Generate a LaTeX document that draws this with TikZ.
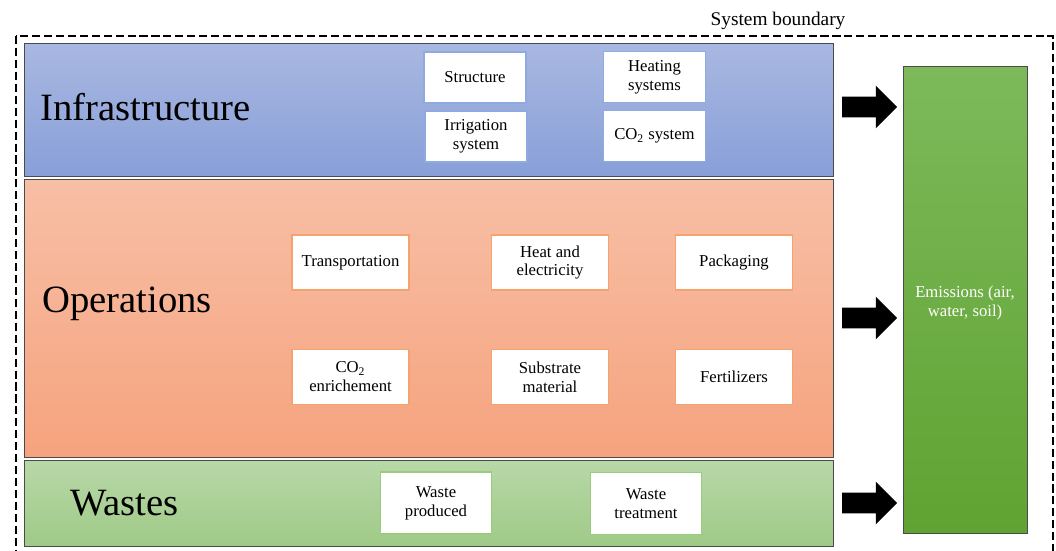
\documentclass[tikz,border=0pt]{standalone}
\usepackage{fontspec}
\setmainfont{Liberation Serif}
\usepackage{tikz}
\usetikzlibrary{positioning,calc,shapes.arrows}
\definecolor{cBlueTop}{HTML}{A9B8E1}
\definecolor{cBlueBot}{HTML}{889FD8}
\definecolor{cBlueD}{HTML}{8FAADC}
\definecolor{cOrgTop}{HTML}{F7BFA6}
\definecolor{cOrgBot}{HTML}{F6A37E}
\definecolor{cOrgD}{HTML}{F4A36C}
\definecolor{cGrnTop}{HTML}{B8D8A8}
\definecolor{cGrnBot}{HTML}{9FCA87}
\definecolor{cGrnD}{HTML}{9BCB7F}
\definecolor{cEmTop}{HTML}{7DB95A}
\definecolor{cEmBot}{HTML}{60A332}
\definecolor{cEdge}{HTML}{4A4A4A}
\tikzset{
  layer/.style   = {draw=cEdge, line width=0.5pt, minimum width=16.2cm, inner sep=0pt},
  ttl/.style     = {anchor=base west, font=\fontsize{22}{26}\selectfont, inner sep=0pt},
  item/.style    = {fill=white, line width=0.6pt, align=center, inner sep=1pt,
                    font=\fontsize{9.5}{10.8}\selectfont},
  infraitem/.style = {item, draw=cBlueD, minimum width=2.04cm, minimum height=1.02cm},
  opsitem/.style   = {item, draw=cOrgD,  minimum width=2.34cm, minimum height=1.1cm},
  wasteitem/.style = {item, draw=cGrnD,  minimum width=2.22cm, minimum height=1.24cm},
  blockarrow/.style = {single arrow, fill=black, draw=none, inner xsep=0pt,
                    inner ysep=0.2cm, single arrow head extend=0.22cm,
                    minimum height=1.1cm},
}

\begin{document}
\begin{tikzpicture}[x=0.02cm, y=-0.02cm]
  \useasboundingbox (0,0) rectangle (1056,551);
  \clip (0,0) rectangle (1056,551);
  % system boundary
  \draw[black, line width=1.5pt, dash pattern=on 4.6pt off 2.2pt] (16,36) rectangle (1053,600);
  \node[font=\fontsize{11}{13}\selectfont] (bnd) at (778,21) {System boundary};
  % layers
  \node[layer, minimum height=2.66cm, top color=cBlueTop, bottom color=cBlueBot] (infra) at (429,109.5) {};
  \node[layer, minimum height=5.56cm, top color=cOrgTop, bottom color=cOrgBot] (ops) at (429,318) {};
  \node[layer, minimum height=1.72cm, top color=cGrnTop, bottom color=cGrnBot] (waste) at (429,503) {};
  \node[ttl] (infraT) at (40,120) {Infrastructure};
  \node[ttl] (opsT) at (42,312) {Operations};
  \node[ttl] (wasteT) at (70,515) {Wastes};
  % infrastructure items
  \node[infraitem] (struct) at (475,77.5) {Structure};
  \node[infraitem] (heatsys) at (654.5,77) {Heating\\systems};
  \node[infraitem] (irrig) at (476,136.5) {Irrigation\\system};
  \node[infraitem] (cosys) at (654.5,136) {CO\textsubscript{2} system};
  % operations items
  \node[opsitem] (transp) at (350.5,262.5) {Transportation};
  \node[opsitem] (heatel) at (550,262.5) {Heat and\\electricity};
  \node[opsitem] (pack) at (734,262.5) {Packaging};
  \node[opsitem] (coenr) at (350.5,377) {CO\textsubscript{2}\\enrichement};
  \node[opsitem] (subst) at (550,377) {Substrate\\material};
  \node[opsitem] (fert) at (734,377) {Fertilizers};
  % waste items
  \node[wasteitem] (wprod) at (436,503) {Waste\\produced};
  \node[wasteitem] (wtreat) at (646,503.5) {Waste\\treatment};
  % emissions
  \node[draw=cEdge, line width=0.5pt, top color=cEmTop, bottom color=cEmBot,
        minimum width=2.48cm, minimum height=9.34cm, inner sep=0pt] (emis) at (965,299.5) {};
  \node[text=white, align=center, font=\fontsize{9.5}{10.8}\selectfont] (emisT) at ($(emis.center)+(0,3)$) {Emissions (air,\\water, soil)};
  % flows to emissions
  \node[blockarrow] (a1) at ($(infra.east)!0.5!(infra.east -| emis.west)+(-4,-2.5)$) {};
  \node[blockarrow] (a2) at ($(ops.east)!0.5!(ops.east -| emis.west)+(-4,0)$) {};
  \node[blockarrow] (a3) at ($(waste.east)!0.5!(waste.east -| emis.west)+(-4,0)$) {};
\end{tikzpicture}
\end{document}
